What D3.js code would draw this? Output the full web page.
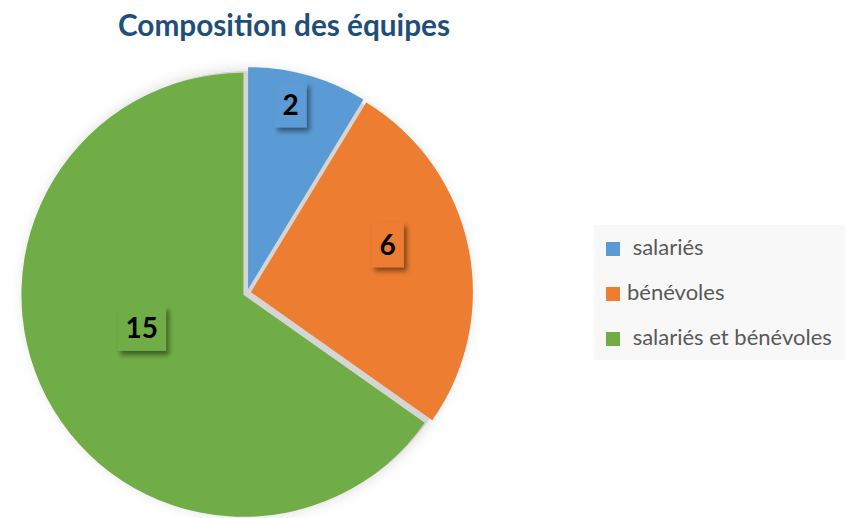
<!DOCTYPE html>
<html>
<head>
<meta charset="utf-8">
<script src="https://cdn.jsdelivr.net/npm/d3@7"></script>
<style>
  html, body { margin: 0; padding: 0; background: #ffffff; }
  svg { display: block; }
  .legend-text { white-space: pre; }
</style>
</head>
<body>
<svg id="chart" width="845" height="518"></svg>
<script>
// ---- data ----
const title = "Composition des équipes";
const categories = ["salariés", "bénévoles", "salariés et bénévoles"];
const legendLabels = [" salariés", "bénévoles", " salariés et bénévoles"];
const values = [2, 6, 15];
const colors = ["#5b9bd5", "#ed7d31", "#70ad47"];

// ---- layout / style ----
const W = 845, H = 518;
const cx = 247, cy = 293, R = 222, explode = 4;
// label placement (fraction of radius, angle shift in degrees relative to slice middle)
const labelPlacement = [
  { rf: 0.87, shift: -2.6 },
  { rf: 0.67, shift: -7.2 },
  { rf: 0.50, shift: 8.8 }
];

const svg = d3.select("#chart");
const defs = svg.append("defs");

const glow = defs.append("filter").attr("id", "glow")
  .attr("x", "-20%").attr("y", "-20%").attr("width", "140%").attr("height", "140%");
glow.append("feDropShadow").attr("dx", 0).attr("dy", 0)
  .attr("stdDeviation", 7).attr("flood-color", "#000").attr("flood-opacity", 0.16);

const boxShadow = defs.append("filter").attr("id", "boxShadow")
  .attr("x", "-30%").attr("y", "-30%").attr("width", "170%").attr("height", "170%");
boxShadow.append("feDropShadow").attr("dx", 3).attr("dy", 4)
  .attr("stdDeviation", 2.5).attr("flood-color", "#000").attr("flood-opacity", 0.45);

// title
svg.append("text")
  .attr("x", 284).attr("y", 36)
  .attr("text-anchor", "middle")
  .attr("font-family", "Lato, 'Open Sans', sans-serif")
  .attr("font-weight", "bold")
  .attr("font-size", 30)
  .attr("fill", "#1f4e79")
  .attr("textLength", 332)
  .attr("lengthAdjust", "spacingAndGlyphs")
  .text(title);

// pie
const pie = d3.pie().sort(null).value(d => d);
const arcs = pie(values);
const arc = d3.arc().innerRadius(0).outerRadius(R);

const pieG = svg.append("g")
  .attr("transform", `translate(${cx},${cy})`);

const shadowG = pieG.append("g").attr("filter", "url(#glow)");
shadowG.append("circle").attr("r", R).attr("fill", "#d5d5d5");

const offset = d => {
  const m = (d.startAngle + d.endAngle) / 2;
  return [Math.sin(m) * explode, -Math.cos(m) * explode];
};

pieG.selectAll("path.slice")
  .data(arcs)
  .join("path")
  .attr("class", "slice")
  .attr("d", arc)
  .attr("fill", (d, i) => colors[i])
  .attr("transform", d => { const o = offset(d); return `translate(${o[0]},${o[1]})`; });

// data labels
const labelG = pieG.selectAll("g.lbl")
  .data(arcs)
  .join("g")
  .attr("class", "lbl")
  .attr("transform", (d, i) => {
    const p = labelPlacement[i];
    const m = (d.startAngle + d.endAngle) / 2 + p.shift * Math.PI / 180;
    const r = R * p.rf;
    return `translate(${Math.sin(m) * r},${-Math.cos(m) * r})`;
  });

labelG.each(function(d, i) {
  const g = d3.select(this);
  const rect = g.append("rect").attr("fill", colors[i]).attr("filter", "url(#boxShadow)");
  const t = g.append("text")
    .attr("text-anchor", "middle")
    .attr("dy", "0.36em")
    .attr("font-family", "Lato, 'Open Sans', sans-serif")
    .attr("font-weight", "bold")
    .attr("font-size", 28)
    .attr("fill", "#000")
    .text(d.data);
  const w = t.node().getComputedTextLength() + 16;
  const h = 45;
  rect.attr("x", -w / 2).attr("y", -h / 2).attr("width", w).attr("height", h);
});

// legend
const legend = svg.append("g");
legend.append("rect")
  .attr("x", 594).attr("y", 225).attr("width", 251).attr("height", 135)
  .attr("fill", "#f8f8f8");

const items = legend.selectAll("g.item")
  .data(categories)
  .join("g")
  .attr("class", "item")
  .attr("transform", (d, i) => `translate(606,${242 + i * 45})`);

items.append("rect")
  .attr("width", 14).attr("height", 14)
  .attr("fill", (d, i) => colors[i]);

items.append("text")
  .attr("class", "legend-text")
  .attr("x", 21).attr("y", 13)
  .attr("font-family", "Lato, 'Open Sans', sans-serif")
  .attr("font-size", 22)
  .attr("fill", "#595959")
  .text((d, i) => legendLabels[i]);
</script>
</body>
</html>
